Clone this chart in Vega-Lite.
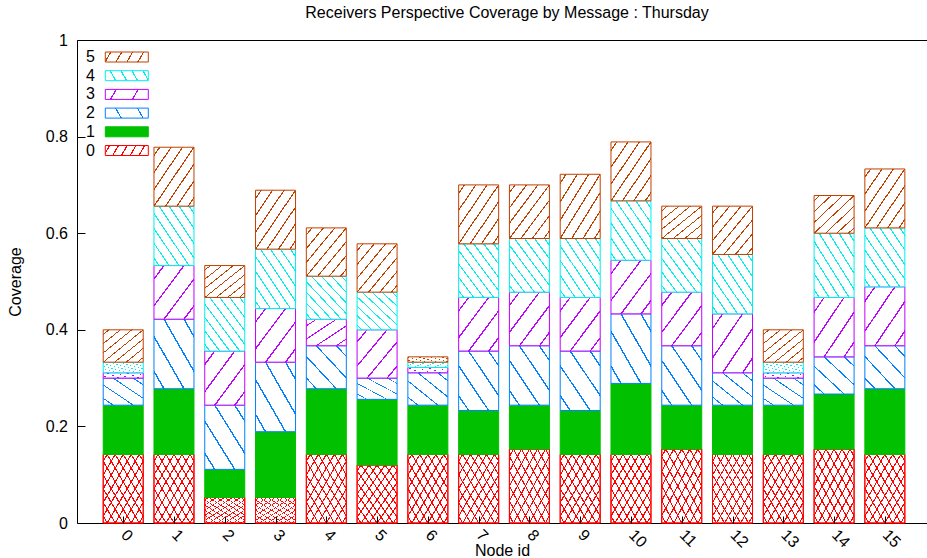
{
"$schema":"https://vega.github.io/schema/vega-lite/v6.json",
"width":850,"height":483,
"autosize":{"type":"none"},
"padding":{"left":77,"top":40,"right":0,"bottom":35},
"config":{"font":"Liberation Sans","view":{"stroke":"#000","strokeWidth":1},
"axis":{"labelFont":"Liberation Sans","labelFontSize":16,"labelColor":"#000","tickColor":"#000","tickWidth":1,"titleFont":"Liberation Sans","titleFontSize":16,"titleFontWeight":"normal","titleColor":"#000","grid":false,"domain":false}},
"title":{"text":"Receivers Perspective Coverage by Message : Thursday","fontSize":16,"fontWeight":"normal","font":"Liberation Sans","color":"#000","anchor":"middle","frame":"group","baseline":"alphabetic","offset":0,"dy":1.5,"dx":5},
"data":{"values":[
{"n":0,"s":"0","lo":0,"hi":0.142},{"n":0,"s":"1","lo":0.142,"hi":0.244},{"n":0,"s":"2","lo":0.244,"hi":0.300},{"n":0,"s":"3","lo":0.300,"hi":0.311},{"n":0,"s":"4","lo":0.311,"hi":0.333},{"n":0,"s":"5","lo":0.333,"hi":0.400},
{"n":1,"s":"0","lo":0,"hi":0.142},{"n":1,"s":"1","lo":0.142,"hi":0.278},{"n":1,"s":"2","lo":0.278,"hi":0.422},{"n":1,"s":"3","lo":0.422,"hi":0.533},{"n":1,"s":"4","lo":0.533,"hi":0.656},{"n":1,"s":"5","lo":0.656,"hi":0.778},
{"n":2,"s":"0","lo":0,"hi":0.053},{"n":2,"s":"1","lo":0.053,"hi":0.111},{"n":2,"s":"2","lo":0.111,"hi":0.244},{"n":2,"s":"3","lo":0.244,"hi":0.356},{"n":2,"s":"4","lo":0.356,"hi":0.467},{"n":2,"s":"5","lo":0.467,"hi":0.533},
{"n":3,"s":"0","lo":0,"hi":0.053},{"n":3,"s":"1","lo":0.053,"hi":0.189},{"n":3,"s":"2","lo":0.189,"hi":0.333},{"n":3,"s":"3","lo":0.333,"hi":0.444},{"n":3,"s":"4","lo":0.444,"hi":0.567},{"n":3,"s":"5","lo":0.567,"hi":0.689},
{"n":4,"s":"0","lo":0,"hi":0.142},{"n":4,"s":"1","lo":0.142,"hi":0.278},{"n":4,"s":"2","lo":0.278,"hi":0.367},{"n":4,"s":"3","lo":0.367,"hi":0.422},{"n":4,"s":"4","lo":0.422,"hi":0.511},{"n":4,"s":"5","lo":0.511,"hi":0.611},
{"n":5,"s":"0","lo":0,"hi":0.120},{"n":5,"s":"1","lo":0.120,"hi":0.256},{"n":5,"s":"2","lo":0.256,"hi":0.300},{"n":5,"s":"3","lo":0.300,"hi":0.400},{"n":5,"s":"4","lo":0.400,"hi":0.478},{"n":5,"s":"5","lo":0.478,"hi":0.578},
{"n":6,"s":"0","lo":0,"hi":0.142},{"n":6,"s":"1","lo":0.142,"hi":0.244},{"n":6,"s":"2","lo":0.244,"hi":0.311},{"n":6,"s":"3","lo":0.311,"hi":0.322},{"n":6,"s":"4","lo":0.322,"hi":0.333},{"n":6,"s":"5","lo":0.333,"hi":0.344},
{"n":7,"s":"0","lo":0,"hi":0.142},{"n":7,"s":"1","lo":0.142,"hi":0.233},{"n":7,"s":"2","lo":0.233,"hi":0.356},{"n":7,"s":"3","lo":0.356,"hi":0.467},{"n":7,"s":"4","lo":0.467,"hi":0.578},{"n":7,"s":"5","lo":0.578,"hi":0.700},
{"n":8,"s":"0","lo":0,"hi":0.153},{"n":8,"s":"1","lo":0.153,"hi":0.244},{"n":8,"s":"2","lo":0.244,"hi":0.367},{"n":8,"s":"3","lo":0.367,"hi":0.478},{"n":8,"s":"4","lo":0.478,"hi":0.589},{"n":8,"s":"5","lo":0.589,"hi":0.700},
{"n":9,"s":"0","lo":0,"hi":0.142},{"n":9,"s":"1","lo":0.142,"hi":0.233},{"n":9,"s":"2","lo":0.233,"hi":0.356},{"n":9,"s":"3","lo":0.356,"hi":0.467},{"n":9,"s":"4","lo":0.467,"hi":0.589},{"n":9,"s":"5","lo":0.589,"hi":0.722},
{"n":10,"s":"0","lo":0,"hi":0.142},{"n":10,"s":"1","lo":0.142,"hi":0.289},{"n":10,"s":"2","lo":0.289,"hi":0.433},{"n":10,"s":"3","lo":0.433,"hi":0.544},{"n":10,"s":"4","lo":0.544,"hi":0.667},{"n":10,"s":"5","lo":0.667,"hi":0.789},
{"n":11,"s":"0","lo":0,"hi":0.153},{"n":11,"s":"1","lo":0.153,"hi":0.244},{"n":11,"s":"2","lo":0.244,"hi":0.367},{"n":11,"s":"3","lo":0.367,"hi":0.478},{"n":11,"s":"4","lo":0.478,"hi":0.589},{"n":11,"s":"5","lo":0.589,"hi":0.656},
{"n":12,"s":"0","lo":0,"hi":0.142},{"n":12,"s":"1","lo":0.142,"hi":0.244},{"n":12,"s":"2","lo":0.244,"hi":0.311},{"n":12,"s":"3","lo":0.311,"hi":0.433},{"n":12,"s":"4","lo":0.433,"hi":0.556},{"n":12,"s":"5","lo":0.556,"hi":0.656},
{"n":13,"s":"0","lo":0,"hi":0.142},{"n":13,"s":"1","lo":0.142,"hi":0.244},{"n":13,"s":"2","lo":0.244,"hi":0.300},{"n":13,"s":"3","lo":0.300,"hi":0.311},{"n":13,"s":"4","lo":0.311,"hi":0.333},{"n":13,"s":"5","lo":0.333,"hi":0.400},
{"n":14,"s":"0","lo":0,"hi":0.153},{"n":14,"s":"1","lo":0.153,"hi":0.267},{"n":14,"s":"2","lo":0.267,"hi":0.344},{"n":14,"s":"3","lo":0.344,"hi":0.467},{"n":14,"s":"4","lo":0.467,"hi":0.600},{"n":14,"s":"5","lo":0.600,"hi":0.678},
{"n":15,"s":"0","lo":0,"hi":0.142},{"n":15,"s":"1","lo":0.142,"hi":0.278},{"n":15,"s":"2","lo":0.278,"hi":0.367},{"n":15,"s":"3","lo":0.367,"hi":0.489},{"n":15,"s":"4","lo":0.489,"hi":0.611},{"n":15,"s":"5","lo":0.611,"hi":0.733}
]},
"encoding":{
"x":{"field":"n","type":"quantitative","scale":{"domain":[-0.91,15.83],"nice":false,"zero":false,"padding":0},
 "axis":{"values":[0,1,2,3,4,5,6,7,8,9,10,11,12,13,14,15],"tickSize":-7,"zindex":1,"labelAngle":45,"labelAlign":"left","labelBaseline":"middle","labelPadding":16,"labelFlush":false,"labelOverlap":false,"title":"Node id","titleX":425,"titleY":32,"titleBaseline":"alphabetic"}},
"y":{"field":"lo","type":"quantitative","scale":{"domain":[0,1],"nice":false,"padding":0},
 "axis":{"values":[0,0.2,0.4,0.6,0.8,1],"format":"~g","tickSize":-8,"zindex":1,"labelPadding":17.5,"title":"Coverage","titleX":-62,"titleY":241.5,"titleBaseline":"middle","titleAngle":-90}},
"y2":{"field":"hi"},
"stroke":{"field":"s","type":"nominal","scale":{"domain":["5","4","3","2","1","0"],"range":["#c04000","#00eeee","#c000ff","#0080ff","#00c000","#ff0000"]},
 "legend":{"title":null,"orient":"none","legendX":4.8,"legendY":9,"padding":0,"symbolType":"M-4.3,-1H4.3V1H-4.3Z","symbolSize":100,"symbolStrokeWidth":1,"symbolOpacity":1,"symbolOffset":37,"labelAlign":"right","labelOffset":-40,"labelFont":"Liberation Sans","labelFontSize":16,"labelColor":"#000","rowPadding":2.7}}
},
"layer":[
{"transform":[{"filter":"datum.s==='0'"}],"mark":{"type":"bar","width":40,"strokeWidth":1,"fill":{"gradient":"linear","x1":0,"y1":0,"x2":1,"y2":1,"stops":[{"offset":0,"color":"#fff"},{"offset":0.0425,"color":"#fff"},{"offset":0.0425,"color":"#f00"},{"offset":0.0575,"color":"#f00"},{"offset":0.0575,"color":"#fff"},{"offset":0.1425,"color":"#fff"},{"offset":0.1425,"color":"#f00"},{"offset":0.1575,"color":"#f00"},{"offset":0.1575,"color":"#fff"},{"offset":0.2425,"color":"#fff"},{"offset":0.2425,"color":"#f00"},{"offset":0.2575,"color":"#f00"},{"offset":0.2575,"color":"#fff"},{"offset":0.3425,"color":"#fff"},{"offset":0.3425,"color":"#f00"},{"offset":0.3575,"color":"#f00"},{"offset":0.3575,"color":"#fff"},{"offset":0.4425,"color":"#fff"},{"offset":0.4425,"color":"#f00"},{"offset":0.4575,"color":"#f00"},{"offset":0.4575,"color":"#fff"},{"offset":0.5425,"color":"#fff"},{"offset":0.5425,"color":"#f00"},{"offset":0.5575,"color":"#f00"},{"offset":0.5575,"color":"#fff"},{"offset":0.6425,"color":"#fff"},{"offset":0.6425,"color":"#f00"},{"offset":0.6575,"color":"#f00"},{"offset":0.6575,"color":"#fff"},{"offset":0.7425,"color":"#fff"},{"offset":0.7425,"color":"#f00"},{"offset":0.7575,"color":"#f00"},{"offset":0.7575,"color":"#fff"},{"offset":0.8425,"color":"#fff"},{"offset":0.8425,"color":"#f00"},{"offset":0.8575,"color":"#f00"},{"offset":0.8575,"color":"#fff"},{"offset":0.9425,"color":"#fff"},{"offset":0.9425,"color":"#f00"},{"offset":0.9575,"color":"#f00"},{"offset":0.9575,"color":"#fff"},{"offset":1,"color":"#fff"}]}}},
{"transform":[{"filter":"datum.s==='0'"}],"mark":{"type":"bar","width":40,"strokeWidth":1,"fill":{"gradient":"linear","x1":0,"y1":1,"x2":1,"y2":0,"stops":[{"offset":0,"color":"rgba(255,255,255,0)"},{"offset":0.0425,"color":"rgba(255,255,255,0)"},{"offset":0.0425,"color":"#f00"},{"offset":0.0575,"color":"#f00"},{"offset":0.0575,"color":"rgba(255,255,255,0)"},{"offset":0.1425,"color":"rgba(255,255,255,0)"},{"offset":0.1425,"color":"#f00"},{"offset":0.1575,"color":"#f00"},{"offset":0.1575,"color":"rgba(255,255,255,0)"},{"offset":0.2425,"color":"rgba(255,255,255,0)"},{"offset":0.2425,"color":"#f00"},{"offset":0.2575,"color":"#f00"},{"offset":0.2575,"color":"rgba(255,255,255,0)"},{"offset":0.3425,"color":"rgba(255,255,255,0)"},{"offset":0.3425,"color":"#f00"},{"offset":0.3575,"color":"#f00"},{"offset":0.3575,"color":"rgba(255,255,255,0)"},{"offset":0.4425,"color":"rgba(255,255,255,0)"},{"offset":0.4425,"color":"#f00"},{"offset":0.4575,"color":"#f00"},{"offset":0.4575,"color":"rgba(255,255,255,0)"},{"offset":0.5425,"color":"rgba(255,255,255,0)"},{"offset":0.5425,"color":"#f00"},{"offset":0.5575,"color":"#f00"},{"offset":0.5575,"color":"rgba(255,255,255,0)"},{"offset":0.6425,"color":"rgba(255,255,255,0)"},{"offset":0.6425,"color":"#f00"},{"offset":0.6575,"color":"#f00"},{"offset":0.6575,"color":"rgba(255,255,255,0)"},{"offset":0.7425,"color":"rgba(255,255,255,0)"},{"offset":0.7425,"color":"#f00"},{"offset":0.7575,"color":"#f00"},{"offset":0.7575,"color":"rgba(255,255,255,0)"},{"offset":0.8425,"color":"rgba(255,255,255,0)"},{"offset":0.8425,"color":"#f00"},{"offset":0.8575,"color":"#f00"},{"offset":0.8575,"color":"rgba(255,255,255,0)"},{"offset":0.9425,"color":"rgba(255,255,255,0)"},{"offset":0.9425,"color":"#f00"},{"offset":0.9575,"color":"#f00"},{"offset":0.9575,"color":"rgba(255,255,255,0)"},{"offset":1,"color":"rgba(255,255,255,0)"}]}}},
{"transform":[{"filter":"datum.s==='1'"}],"mark":{"type":"bar","width":40,"strokeWidth":1,"fill":"#00c000"}},
{"transform":[{"filter":"datum.s==='2'"}],"mark":{"type":"bar","width":40,"strokeWidth":1,"fill":{"gradient":"linear","x1":0,"y1":1,"x2":1,"y2":0,"stops":[{"offset":0,"color":"#fff"},{"offset":0.115,"color":"#fff"},{"offset":0.115,"color":"#0080ff"},{"offset":0.135,"color":"#0080ff"},{"offset":0.135,"color":"#fff"},{"offset":0.365,"color":"#fff"},{"offset":0.365,"color":"#0080ff"},{"offset":0.385,"color":"#0080ff"},{"offset":0.385,"color":"#fff"},{"offset":0.615,"color":"#fff"},{"offset":0.615,"color":"#0080ff"},{"offset":0.635,"color":"#0080ff"},{"offset":0.635,"color":"#fff"},{"offset":0.865,"color":"#fff"},{"offset":0.865,"color":"#0080ff"},{"offset":0.885,"color":"#0080ff"},{"offset":0.885,"color":"#fff"},{"offset":1,"color":"#fff"}]}}},
{"transform":[{"filter":"datum.s==='3'"}],"mark":{"type":"bar","width":40,"strokeWidth":1,"fill":{"gradient":"linear","x1":0,"y1":0,"x2":1,"y2":1,"stops":[{"offset":0,"color":"#fff"},{"offset":0.115,"color":"#fff"},{"offset":0.115,"color":"#c000ff"},{"offset":0.135,"color":"#c000ff"},{"offset":0.135,"color":"#fff"},{"offset":0.365,"color":"#fff"},{"offset":0.365,"color":"#c000ff"},{"offset":0.385,"color":"#c000ff"},{"offset":0.385,"color":"#fff"},{"offset":0.615,"color":"#fff"},{"offset":0.615,"color":"#c000ff"},{"offset":0.635,"color":"#c000ff"},{"offset":0.635,"color":"#fff"},{"offset":0.865,"color":"#fff"},{"offset":0.865,"color":"#c000ff"},{"offset":0.885,"color":"#c000ff"},{"offset":0.885,"color":"#fff"},{"offset":1,"color":"#fff"}]}}},
{"transform":[{"filter":"datum.s==='4'"}],"mark":{"type":"bar","width":40,"strokeWidth":1,"fill":{"gradient":"linear","x1":0,"y1":1,"x2":1,"y2":0,"stops":[{"offset":0,"color":"#fff"},{"offset":0.0544,"color":"#fff"},{"offset":0.0544,"color":"#00eeee"},{"offset":0.0706,"color":"#00eeee"},{"offset":0.0706,"color":"#fff"},{"offset":0.1794,"color":"#fff"},{"offset":0.1794,"color":"#00eeee"},{"offset":0.1956,"color":"#00eeee"},{"offset":0.1956,"color":"#fff"},{"offset":0.3044,"color":"#fff"},{"offset":0.3044,"color":"#00eeee"},{"offset":0.3206,"color":"#00eeee"},{"offset":0.3206,"color":"#fff"},{"offset":0.4294,"color":"#fff"},{"offset":0.4294,"color":"#00eeee"},{"offset":0.4456,"color":"#00eeee"},{"offset":0.4456,"color":"#fff"},{"offset":0.5544,"color":"#fff"},{"offset":0.5544,"color":"#00eeee"},{"offset":0.5706,"color":"#00eeee"},{"offset":0.5706,"color":"#fff"},{"offset":0.6794,"color":"#fff"},{"offset":0.6794,"color":"#00eeee"},{"offset":0.6956,"color":"#00eeee"},{"offset":0.6956,"color":"#fff"},{"offset":0.8044,"color":"#fff"},{"offset":0.8044,"color":"#00eeee"},{"offset":0.8206,"color":"#00eeee"},{"offset":0.8206,"color":"#fff"},{"offset":0.9294,"color":"#fff"},{"offset":0.9294,"color":"#00eeee"},{"offset":0.9456,"color":"#00eeee"},{"offset":0.9456,"color":"#fff"},{"offset":1,"color":"#fff"}]}}},
{"transform":[{"filter":"datum.s==='5'"}],"mark":{"type":"bar","width":40,"strokeWidth":1,"fill":{"gradient":"linear","x1":0,"y1":0,"x2":1,"y2":1,"stops":[{"offset":0,"color":"#fff"},{"offset":0.0629,"color":"#fff"},{"offset":0.0629,"color":"#c04000"},{"offset":0.08,"color":"#c04000"},{"offset":0.08,"color":"#fff"},{"offset":0.2057,"color":"#fff"},{"offset":0.2057,"color":"#c04000"},{"offset":0.2229,"color":"#c04000"},{"offset":0.2229,"color":"#fff"},{"offset":0.3486,"color":"#fff"},{"offset":0.3486,"color":"#c04000"},{"offset":0.3657,"color":"#c04000"},{"offset":0.3657,"color":"#fff"},{"offset":0.4914,"color":"#fff"},{"offset":0.4914,"color":"#c04000"},{"offset":0.5086,"color":"#c04000"},{"offset":0.5086,"color":"#fff"},{"offset":0.6343,"color":"#fff"},{"offset":0.6343,"color":"#c04000"},{"offset":0.6514,"color":"#c04000"},{"offset":0.6514,"color":"#fff"},{"offset":0.7771,"color":"#fff"},{"offset":0.7771,"color":"#c04000"},{"offset":0.7943,"color":"#c04000"},{"offset":0.7943,"color":"#fff"},{"offset":0.92,"color":"#fff"},{"offset":0.92,"color":"#c04000"},{"offset":0.9371,"color":"#c04000"},{"offset":0.9371,"color":"#fff"},{"offset":1,"color":"#fff"}]}}},
{"transform":[{"filter":"false"}],"mark":{"type":"bar","width":40,"strokeWidth":1},
 "encoding":{"fill":{"field":"s","type":"nominal","scale":{"domain":["5","4","3","2","1","0"],"range":[
  {"signal":"{gradient:'linear',x1:0,y1:0,x2:1,y2:0.134,stops:[{offset:0,color:'#fff'},{offset:0.11,color:'#fff'},{offset:0.11,color:'#c04000'},{offset:0.14,color:'#c04000'},{offset:0.14,color:'#fff'},{offset:0.36,color:'#fff'},{offset:0.36,color:'#c04000'},{offset:0.39,color:'#c04000'},{offset:0.39,color:'#fff'},{offset:0.61,color:'#fff'},{offset:0.61,color:'#c04000'},{offset:0.64,color:'#c04000'},{offset:0.64,color:'#fff'},{offset:0.86,color:'#fff'},{offset:0.86,color:'#c04000'},{offset:0.89,color:'#c04000'},{offset:0.89,color:'#fff'},{offset:1,color:'#fff'}]}"},
  {"signal":"{gradient:'linear',x1:0,y1:0.134,x2:1,y2:0,stops:[{offset:0,color:'#fff'},{offset:0.11,color:'#fff'},{offset:0.11,color:'#00eeee'},{offset:0.14,color:'#00eeee'},{offset:0.14,color:'#fff'},{offset:0.36,color:'#fff'},{offset:0.36,color:'#00eeee'},{offset:0.39,color:'#00eeee'},{offset:0.39,color:'#fff'},{offset:0.61,color:'#fff'},{offset:0.61,color:'#00eeee'},{offset:0.64,color:'#00eeee'},{offset:0.64,color:'#fff'},{offset:0.86,color:'#fff'},{offset:0.86,color:'#00eeee'},{offset:0.89,color:'#00eeee'},{offset:0.89,color:'#fff'},{offset:1,color:'#fff'}]}"},
  {"signal":"{gradient:'linear',x1:0,y1:0,x2:1,y2:0.134,stops:[{offset:0,color:'#fff'},{offset:0.235,color:'#fff'},{offset:0.235,color:'#c000ff'},{offset:0.265,color:'#c000ff'},{offset:0.265,color:'#fff'},{offset:0.735,color:'#fff'},{offset:0.735,color:'#c000ff'},{offset:0.765,color:'#c000ff'},{offset:0.765,color:'#fff'},{offset:1,color:'#fff'}]}"},
  {"signal":"{gradient:'linear',x1:0,y1:0.134,x2:1,y2:0,stops:[{offset:0,color:'#fff'},{offset:0.235,color:'#fff'},{offset:0.235,color:'#0080ff'},{offset:0.265,color:'#0080ff'},{offset:0.265,color:'#fff'},{offset:0.735,color:'#fff'},{offset:0.735,color:'#0080ff'},{offset:0.765,color:'#0080ff'},{offset:0.765,color:'#fff'},{offset:1,color:'#fff'}]}"},
  "#00c000",
  {"signal":"{gradient:'linear',x1:0,y1:0,x2:1,y2:0.134,stops:[{offset:0,color:'#fff'},{offset:0.085,color:'#fff'},{offset:0.085,color:'#f00'},{offset:0.115,color:'#f00'},{offset:0.115,color:'#fff'},{offset:0.285,color:'#fff'},{offset:0.285,color:'#f00'},{offset:0.315,color:'#f00'},{offset:0.315,color:'#fff'},{offset:0.485,color:'#fff'},{offset:0.485,color:'#f00'},{offset:0.515,color:'#f00'},{offset:0.515,color:'#fff'},{offset:0.685,color:'#fff'},{offset:0.685,color:'#f00'},{offset:0.715,color:'#f00'},{offset:0.715,color:'#fff'},{offset:0.885,color:'#fff'},{offset:0.885,color:'#f00'},{offset:0.915,color:'#f00'},{offset:0.915,color:'#fff'},{offset:1,color:'#fff'}]}"}
 ]},
 "legend":{"title":null,"orient":"none","legendX":4.8,"legendY":9,"padding":0,"symbolType":"M-4.3,-1H4.3V1H-4.3Z","symbolSize":100,"symbolStrokeWidth":1,"symbolOpacity":1,"symbolOffset":37,"labelAlign":"right","labelOffset":-40,"labelFont":"Liberation Sans","labelFontSize":16,"labelColor":"#000","rowPadding":2.7}}}}
]
}
